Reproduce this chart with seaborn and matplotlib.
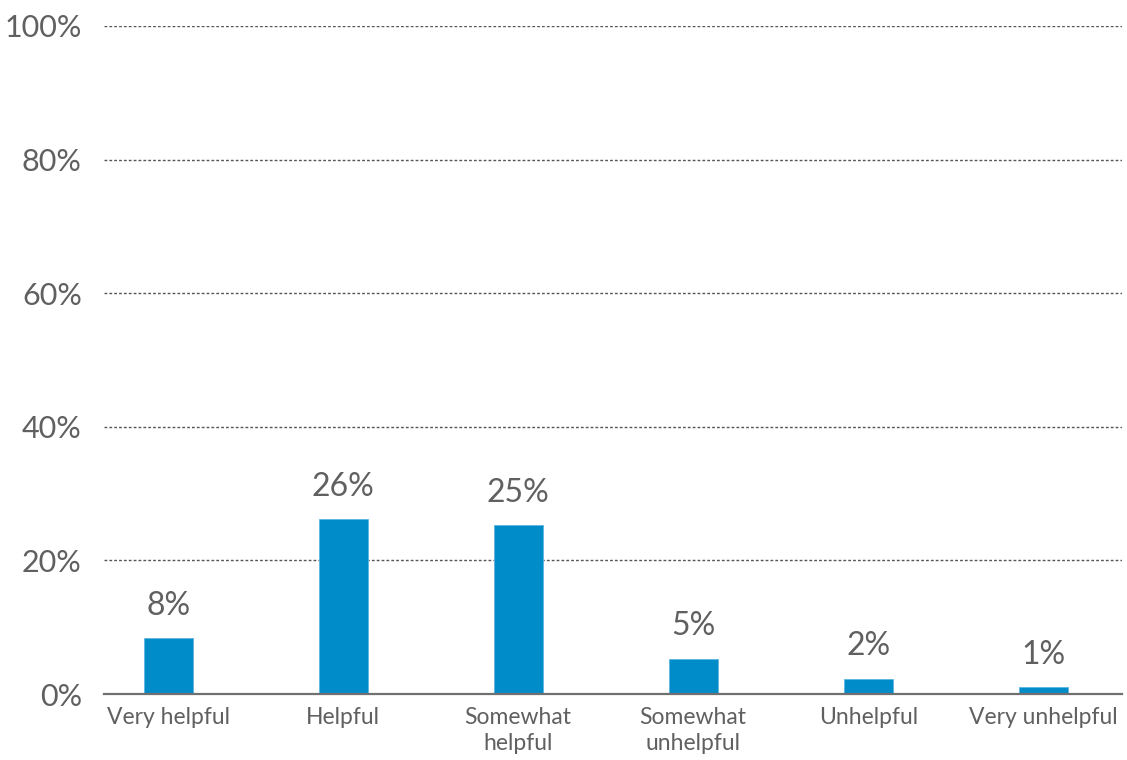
import matplotlib
matplotlib.use('Agg')
import matplotlib.pyplot as plt
import seaborn as sns
import pandas as pd

categories = ["Very helpful", "Helpful", "Somewhat\nhelpful", "Somewhat\nunhelpful",
              "Unhelpful", "Very unhelpful"]
values = [8.4, 26.2, 25.3, 5.3, 2.3, 1.0]
yticks = [0, 20, 40, 60, 80, 100]

BAR = "#008CC8"
TXT = "#606060"

sns.set_style("white")
plt.rcParams['font.family'] = ['Lato', 'DejaVu Sans']

df = pd.DataFrame({"cat": categories, "val": values})

fig = plt.figure(figsize=(11.27, 7.6), dpi=100)
ax = fig.add_axes([0.0923, 0.0868, 0.9033, 0.879])

sns.barplot(data=df, x="cat", y="val", color=BAR, width=0.28, saturation=1,
            edgecolor="#5BB5E0", linewidth=0.6, ax=ax, zorder=3)

# value labels above each bar
for i, v in enumerate(values):
    ax.text(i, v + 2.6, f"{round(v)}%", ha="center", va="bottom",
            fontsize=23, color=TXT)

ax.set_ylim(0, 100)
ax.set_xlim(-0.366, 5.45)
ax.set_yticks(yticks)
ax.set_yticklabels([f"{t}%" for t in yticks], fontsize=22, color=TXT)
ax.tick_params(axis='x', labelsize=16.5, colors=TXT, length=0, pad=9)
ax.tick_params(axis='y', length=0, pad=16)
for lab in ax.get_xticklabels():
    lab.set_color(TXT)
    lab.set_linespacing(1.3)

for t in yticks[1:]:
    ax.axhline(t, color="#555555", linestyle=(0, (2, 1.5)), linewidth=1.0, zorder=1)

for s in ["top", "right", "left"]:
    ax.spines[s].set_visible(False)
ax.spines["bottom"].set_color("#707070")
ax.spines["bottom"].set_linewidth(1.6)
ax.spines["bottom"].set_zorder(4)
ax.set_xlabel("")
ax.set_ylabel("")

fig.savefig("out.png", dpi=100)
